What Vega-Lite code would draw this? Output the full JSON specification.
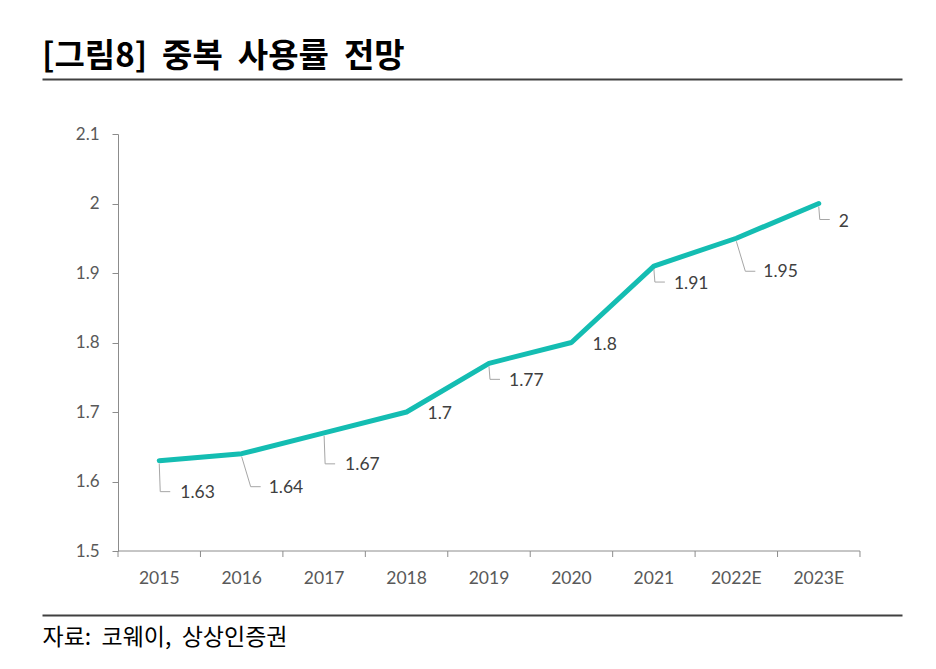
{
  "$schema": "https://vega.github.io/schema/vega-lite/v6.json",
  "width": 860,
  "height": 536,
  "autosize": {"type": "none"},
  "padding": {"left": 42, "top": 79, "right": 34, "bottom": 54},
  "background": "white",
  "config": {"view": {"stroke": null}, "font": "Lato"},
  "title": {
    "text": "[그림8]\u00a0\u00a0중복\u00a0\u00a0사용률\u00a0\u00a0전망",
    "anchor": "start",
    "font": "Noto Sans CJK KR",
    "fontSize": 33,
    "fontWeight": "bold",
    "color": "#000000",
    "offset": 5
  },
  "data": {
    "values": [
      {"year": "2015", "value": 1.63},
      {"year": "2016", "value": 1.64},
      {"year": "2017", "value": 1.67},
      {"year": "2018", "value": 1.7},
      {"year": "2019", "value": 1.77},
      {"year": "2020", "value": 1.8},
      {"year": "2021", "value": 1.91},
      {"year": "2022E", "value": 1.95},
      {"year": "2023E", "value": 2}
    ]
  },
  "resolve": {"axis": {"x": "independent"}},
  "layer": [
    {
      "mark": {"type": "rule", "color": "#8c8c8c", "strokeWidth": 1},
      "encoding": {
        "x": {"field": "year", "type": "ordinal", "sort": null, "bandPosition": 0,
          "scale": {"type": "band", "paddingInner": 0, "paddingOuter": 0.716, "align": 0.644},
          "axis": {"orient": "top", "domain": true, "domainColor": "#404040", "domainWidth": 2, "ticks": false, "labels": false, "title": null, "grid": false}},
        "x2": {"field": "year", "bandPosition": 1},
        "y": {"datum": 1.5, "type": "quantitative"}
      }
    },
    {
      "mark": {"type": "rule", "color": "#8c8c8c", "strokeWidth": 1, "y2Offset": 6},
      "encoding": {
        "x": {"field": "year", "type": "ordinal", "sort": null, "bandPosition": 0, "axis": null},
        "y": {"datum": 1.5, "type": "quantitative"},
        "y2": {"datum": 1.5}
      }
    },
    {
      "transform": [{"filter": {"field": "year", "equal": "2023E"}}],
      "mark": {"type": "rule", "color": "#8c8c8c", "strokeWidth": 1, "y2Offset": 6},
      "encoding": {
        "x": {"field": "year", "type": "ordinal", "sort": null, "bandPosition": 1, "axis": null},
        "y": {"datum": 1.5, "type": "quantitative"},
        "y2": {"datum": 1.5}
      }
    },
    {
      "mark": {"type": "line", "color": "#14BDB2", "strokeWidth": 5, "strokeJoin": "round", "strokeCap": "round"},
      "encoding": {
        "x": {"field": "year", "type": "ordinal", "sort": null, "bandPosition": 0.5,
          "axis": {"orient": "bottom", "domain": true, "domainColor": "#404040", "domainWidth": 2,
            "ticks": false, "tickSize": 0, "labelPadding": -37, "labelBaseline": "middle", "labelAngle": 0,
            "labelFont": "Lato", "labelFontSize": 17.5, "labelColor": "#595959", "grid": false,
            "title": "자료:\u00a0\u00a0코웨이,\u00a0\u00a0상상인증권", "titleFont": "Noto Sans CJK KR", "titleFontSize": 23,
            "titleFontWeight": "normal", "titleColor": "#000000", "titleAnchor": "start", "titleAlign": "left",
            "titleX": 0, "titleY": 22, "titleBaseline": "middle"}},
        "y": {"field": "value", "type": "quantitative",
          "scale": {"domain": [1.5, 2.1], "range": [472, 55], "nice": false, "zero": false},
          "axis": {"orient": "left", "offset": -76, "values": [1.5, 1.6, 1.7, 1.8, 1.9, 2.0, 2.1], "format": ".1~f",
            "grid": false, "domainColor": "#8c8c8c", "tickColor": "#8c8c8c", "tickSize": 6,
            "labelPadding": 13, "labelFont": "Lato", "labelFontSize": 17, "labelColor": "#595959", "title": null}}
      }
    },
    {
      "transform": [{"filter": {"field": "year", "oneOf": ["2015", "2017"]}}],
      "layer": [
        {"mark": {"type": "rule", "color": "#a6a6a6", "strokeWidth": 1, "yOffset": 3, "x2Offset": 1, "y2Offset": 31}},
        {"mark": {"type": "rule", "color": "#a6a6a6", "strokeWidth": 1, "xOffset": 1, "x2Offset": 11, "yOffset": 31, "y2Offset": 31}}
      ],
      "encoding": {
        "x": {"field": "year", "type": "ordinal", "sort": null, "bandPosition": 0.5, "axis": null},
        "x2": {"field": "year", "bandPosition": 0.5},
        "y": {"field": "value", "type": "quantitative"},
        "y2": {"field": "value"}
      }
    },
    {
      "transform": [{"filter": {"field": "year", "oneOf": ["2016", "2022E"]}}],
      "layer": [
        {"mark": {"type": "rule", "color": "#a6a6a6", "strokeWidth": 1, "yOffset": 3, "x2Offset": 9, "y2Offset": 33}},
        {"mark": {"type": "rule", "color": "#a6a6a6", "strokeWidth": 1, "xOffset": 9, "x2Offset": 19, "yOffset": 33, "y2Offset": 33}}
      ],
      "encoding": {
        "x": {"field": "year", "type": "ordinal", "sort": null, "bandPosition": 0.5, "axis": null},
        "x2": {"field": "year", "bandPosition": 0.5},
        "y": {"field": "value", "type": "quantitative"},
        "y2": {"field": "value"}
      }
    },
    {
      "transform": [{"filter": {"field": "year", "oneOf": ["2019", "2021", "2023E"]}}],
      "layer": [
        {"mark": {"type": "rule", "color": "#a6a6a6", "strokeWidth": 1, "yOffset": 3, "x2Offset": 1, "y2Offset": 16}},
        {"mark": {"type": "rule", "color": "#a6a6a6", "strokeWidth": 1, "xOffset": 1, "x2Offset": 11, "yOffset": 16, "y2Offset": 16}}
      ],
      "encoding": {
        "x": {"field": "year", "type": "ordinal", "sort": null, "bandPosition": 0.5, "axis": null},
        "x2": {"field": "year", "bandPosition": 0.5},
        "y": {"field": "value", "type": "quantitative"},
        "y2": {"field": "value"}
      }
    },
    {
      "transform": [{"filter": {"field": "year", "oneOf": ["2015", "2017"]}}],
      "mark": {"type": "text", "align": "left", "baseline": "middle", "dx": 21, "dy": 32, "font": "Lato", "fontSize": 17.5, "color": "#404040"},
      "encoding": {
        "x": {"field": "year", "type": "ordinal", "sort": null, "bandPosition": 0.5, "axis": null},
        "y": {"field": "value", "type": "quantitative"},
        "text": {"field": "value", "type": "quantitative", "format": "~g"}
      }
    },
    {
      "transform": [{"filter": {"field": "year", "oneOf": ["2016", "2022E"]}}],
      "mark": {"type": "text", "align": "left", "baseline": "middle", "dx": 27, "dy": 34, "font": "Lato", "fontSize": 17.5, "color": "#404040"},
      "encoding": {
        "x": {"field": "year", "type": "ordinal", "sort": null, "bandPosition": 0.5, "axis": null},
        "y": {"field": "value", "type": "quantitative"},
        "text": {"field": "value", "type": "quantitative", "format": "~g"}
      }
    },
    {
      "transform": [{"filter": {"field": "year", "oneOf": ["2019", "2021", "2023E"]}}],
      "mark": {"type": "text", "align": "left", "baseline": "middle", "dx": 20, "dy": 18, "font": "Lato", "fontSize": 17.5, "color": "#404040"},
      "encoding": {
        "x": {"field": "year", "type": "ordinal", "sort": null, "bandPosition": 0.5, "axis": null},
        "y": {"field": "value", "type": "quantitative"},
        "text": {"field": "value", "type": "quantitative", "format": "~g"}
      }
    },
    {
      "transform": [{"filter": {"field": "year", "oneOf": ["2018", "2020"]}}],
      "mark": {"type": "text", "align": "left", "baseline": "middle", "dx": 21, "dy": 2, "font": "Lato", "fontSize": 17.5, "color": "#404040"},
      "encoding": {
        "x": {"field": "year", "type": "ordinal", "sort": null, "bandPosition": 0.5, "axis": null},
        "y": {"field": "value", "type": "quantitative"},
        "text": {"field": "value", "type": "quantitative", "format": "~g"}
      }
    }
  ]
}
